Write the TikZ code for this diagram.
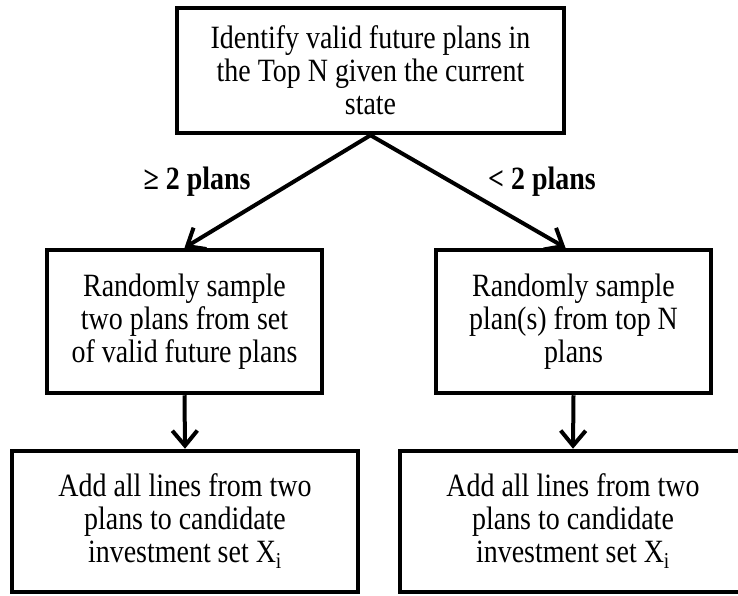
\documentclass[tikz,border=0pt]{standalone}
\usepackage{fontspec}
\setmainfont{Liberation Serif}[FakeStretch=0.86]
\usetikzlibrary{arrows.meta}
\tikzset{
  procbox/.style={rectangle,draw=black,line width=4.5pt,align=center,inner sep=0pt,
    font=\fontsize{32.5}{32.8}\selectfont},
  branch/.style={font=\fontsize{32.5}{32.8}\selectfont\bfseries},
  % open barbed heads, as drawn in the flow chart
  flow/.style={-{Straight Barb[length=15pt,width=25pt]},line width=4pt,black},
}
\begin{document}
\begin{tikzpicture}[x=1pt,y=-1pt,
  wbox/.style={procbox,minimum width=387pt,minimum height=125pt},
  mbox/.style={procbox,minimum width=275pt,minimum height=143pt},
  bbox/.style={procbox,minimum width=346pt,minimum height=141pt}]
  \useasboundingbox (0,0) rectangle (738,596);
  % ---- top: the test on the current state ----
  \node[wbox] (ident) at (370.5,70.5)
    {Identify valid future plans in\\the Top N given the current\\state};
  % ---- middle: the two sampling rules ----
  \node[mbox] (sampTwo) at (184.5,321.5)
    {Randomly sample\\two plans from set\\of valid future plans};
  \node[mbox] (sampTop) at (573.5,321.5)
    {Randomly sample\\plan(s) from top N\\plans};
  % ---- bottom: both branches end in the same step ----
  \node[bbox] (addL) at (185,521.5)
    {Add all lines from two\\plans to candidate\\investment set X\textsubscript{i}};
  \node[bbox] (addR) at (573,521.5)
    {Add all lines from two\\plans to candidate\\investment set X\textsubscript{i}};
  % ---- connectors ----
  \draw[flow] (ident.south) -- (sampTwo.north);
  \draw[flow] (ident.south) -- ([xshift=-8pt]sampTop.north);
  \draw[flow] (sampTwo.south) -- (addL.north);
  \draw[flow] (sampTop.south) -- (addR.north);
  \node[branch] (geTwo) at (197,182) {≥ 2 plans};
  \node[branch] (ltTwo) at (542,182) {< 2 plans};
\end{tikzpicture}
\end{document}
